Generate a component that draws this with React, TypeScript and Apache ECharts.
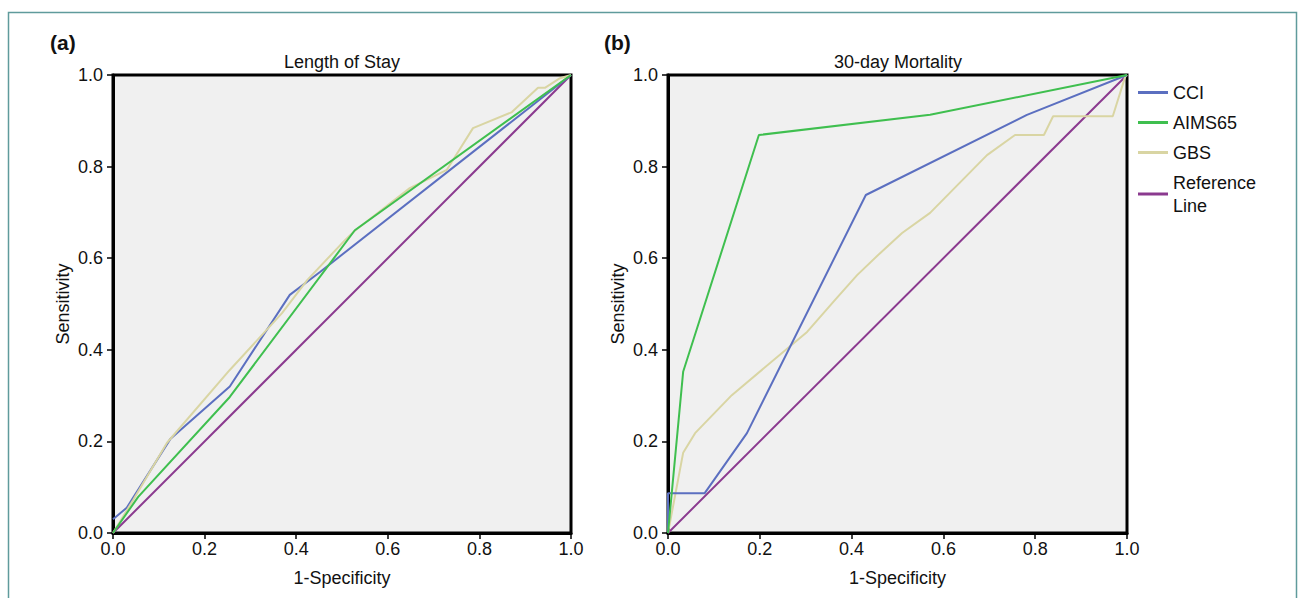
import React, { useEffect, useRef } from "react";
import * as echarts from "echarts";

const axisTicks = [0, 0.2, 0.4, 0.6, 0.8, 1.0];
const seriesNames = ["CCI", "AIMS65", "GBS", "Reference Line"];
const seriesColors = ["#5b6fc0", "#3fbf4f", "#d9d5a3", "#8b3a8f"];

// (a) Length of Stay
const losCCI: [number, number][] = [
  [0, 0.03], [0.03, 0.055], [0.125, 0.205], [0.255, 0.32], [0.386, 0.52], [0.452, 0.57], [1, 1],
];
const losAIMS65: [number, number][] = [
  [0, 0], [0.055, 0.079], [0.255, 0.297], [0.528, 0.661], [1, 1],
];
const losGBS: [number, number][] = [
  [0, 0], [0.044, 0.072], [0.118, 0.197], [0.255, 0.356], [0.369, 0.48], [0.424, 0.552],
  [0.507, 0.64], [0.528, 0.66], [0.648, 0.753], [0.729, 0.793], [0.786, 0.884], [0.871, 0.919],
  [0.928, 0.972], [0.943, 0.972], [0.976, 0.993], [1, 1],
];
const reference: [number, number][] = [[0, 0], [1, 1]];

// (b) 30-day Mortality
const mortCCI: [number, number][] = [
  [0, 0], [0, 0.087], [0.08, 0.087], [0.172, 0.218], [0.431, 0.738], [0.782, 0.913], [1, 1],
];
const mortAIMS65: [number, number][] = [
  [0, 0], [0.033, 0.352], [0.198, 0.869], [0.571, 0.913], [1, 1],
];
const mortGBS: [number, number][] = [
  [0, 0], [0.033, 0.175], [0.059, 0.218], [0.139, 0.301], [0.303, 0.439], [0.364, 0.509],
  [0.412, 0.563], [0.462, 0.611], [0.51, 0.655], [0.571, 0.699], [0.695, 0.825], [0.756, 0.869],
  [0.819, 0.869], [0.839, 0.91], [0.969, 0.91], [0.996, 0.996], [1, 1],
];

const FONT = "Liberation Sans, Arial, sans-serif";

export default function App() {
  const ref = useRef<HTMLDivElement>(null);
  useEffect(() => {
    if (!ref.current) return;
    const chart = echarts.init(ref.current, undefined, { renderer: "svg" });
    const mkX = (gi: number) => ({
      type: "value",
      gridIndex: gi,
      min: axisTicks[0],
      max: axisTicks[axisTicks.length - 1],
      interval: 0.2,
      name: "1-Specificity",
      nameLocation: "middle",
      nameGap: 36,
      nameTextStyle: { fontSize: 18, color: "#111", fontFamily: FONT },
      axisLine: { show: true, lineStyle: { color: "#000", width: 3 } },
      axisTick: { show: true, length: 6, lineStyle: { color: "#000", width: 1.5 } },
      axisLabel: {
        fontSize: 18, color: "#111", fontFamily: FONT, margin: 7,
        formatter: (v: number) => v.toFixed(1),
      },
      splitLine: { show: false },
    });
    const mkY = (gi: number) => ({
      type: "value",
      gridIndex: gi,
      min: axisTicks[0],
      max: axisTicks[axisTicks.length - 1],
      interval: 0.2,
      name: "Sensitivity",
      nameLocation: "middle",
      nameGap: 41,
      nameTextStyle: { fontSize: 18, color: "#111", fontFamily: FONT },
      axisLine: { show: true, lineStyle: { color: "#000", width: 3 } },
      axisTick: { show: true, length: 6, lineStyle: { color: "#000", width: 1.5 } },
      axisLabel: {
        fontSize: 18, color: "#111", fontFamily: FONT, margin: 10,
        formatter: (v: number) => v.toFixed(1),
      },
      splitLine: { show: false },
    });
    const mkSeries = (name: string, data: [number, number][], gi: number, ci: number) => ({
      type: "line",
      name,
      xAxisIndex: gi,
      yAxisIndex: gi,
      data,
      showSymbol: false,
      symbol: "none",
      lineStyle: { color: seriesColors[ci], width: 2 },
      itemStyle: { color: seriesColors[ci] },
      z: ci === 3 ? 1 : 2,
    });
    chart.setOption({
      animation: false,
      backgroundColor: "#fff",
      title: [
        { text: "Length of Stay", left: 337, top: 48, textAlign: "center",
          textStyle: { fontSize: 18, fontWeight: "normal", color: "#111", fontFamily: FONT } },
        { text: "30-day Mortality", left: 893, top: 48, textAlign: "center",
          textStyle: { fontSize: 18, fontWeight: "normal", color: "#111", fontFamily: FONT } },
        { text: "(a)", left: 45, top: 27,
          textStyle: { fontSize: 21, fontWeight: "bold", color: "#111", fontFamily: FONT } },
        { text: "(b)", left: 599, top: 27,
          textStyle: { fontSize: 21, fontWeight: "bold", color: "#111", fontFamily: FONT } },
      ],
      grid: [
        { left: 113, top: 75, width: 458, height: 458, show: true, backgroundColor: "#f0f0f0",
          borderColor: "#000", borderWidth: 3 },
        { left: 668, top: 75, width: 459, height: 458, show: true, backgroundColor: "#f0f0f0",
          borderColor: "#000", borderWidth: 3 },
      ],
      xAxis: [mkX(0), mkX(1)],
      yAxis: [mkY(0), mkY(1)],
      legend: {
        orient: "vertical",
        left: 1133,
        top: 76,
        itemWidth: 30,
        itemHeight: 3,
        itemGap: 7,
        icon: "rect",
        data: seriesNames,
        formatter: (n: string) => (n === "Reference Line" ? "Reference\nLine" : n),
        textStyle: { fontSize: 18, color: "#111", fontFamily: FONT, lineHeight: 23 },
      },
      graphic: [
        { type: "rect", shape: { x: 8.5, y: 12.5, width: 1288, height: 700 },
          style: { fill: "none", stroke: "#5f9b9c", lineWidth: 1.5 }, silent: true, z: -1 },
      ],
      series: [
        mkSeries("Reference Line", reference, 0, 3),
        mkSeries("CCI", losCCI, 0, 0),
        mkSeries("GBS", losGBS, 0, 2),
        mkSeries("AIMS65", losAIMS65, 0, 1),
        mkSeries("Reference Line", reference, 1, 3),
        mkSeries("GBS", mortGBS, 1, 2),
        mkSeries("CCI", mortCCI, 1, 0),
        mkSeries("AIMS65", mortAIMS65, 1, 1),
      ],
    });
    return () => chart.dispose();
  }, []);
  return (
    <div style={{ position: "absolute", left: 0, top: 0, width: 1305, height: 598 }}>
      <div ref={ref} style={{ width: 1305, height: 598 }} />
    </div>
  );
}
